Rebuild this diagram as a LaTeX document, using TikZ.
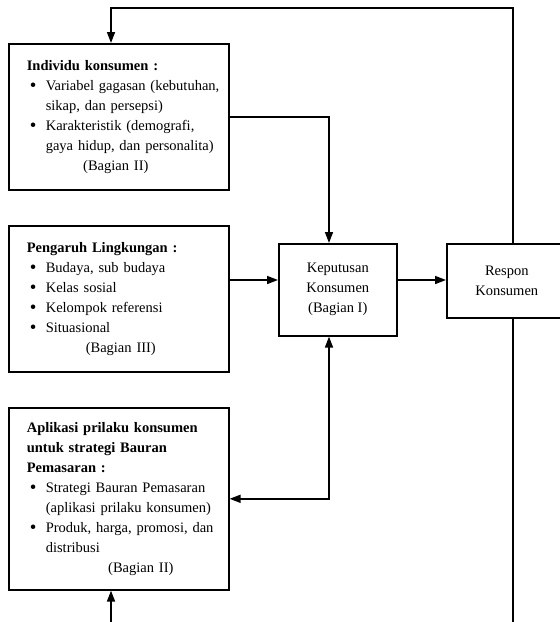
\documentclass[tikz,border=0pt]{standalone}
\usepackage{fontspec}
\setmainfont{Liberation Serif}
\usetikzlibrary{arrows.meta}

\newcommand{\itm}[1]{\makebox[19pt][l]{\hspace{3pt}\raisebox{-1.4pt}{\scalebox{1.3}{\textbullet}}}\mbox{#1}}
\newcommand{\cnt}[1]{\hspace*{19pt}\mbox{#1}}
\newcommand{\bag}[2][0pt]{\makebox[184pt]{\hspace{#1}#2}}

\begin{document}
\begin{tikzpicture}
        [x=1pt, y=-1pt,
        every node/.style={font=\fontsize{14.5}{20}\selectfont},
        sidebox/.style={draw, line width=1.6pt, anchor=north west,
          minimum width=220pt, text width=184pt, inner xsep=18pt, align=left},
        midbox/.style={draw, line width=1.6pt, anchor=north west, align=center},
        link/.style={line width=1.6pt},
        tip/.style={-{Triangle[length=11pt,width=8pt]}},
        tips/.style={{Triangle[length=11pt,width=8pt]}-{Triangle[length=11pt,width=8pt]}}]

    \path[use as bounding box, clip] (0,0) rectangle (560,622);

    % left column
    \node[sidebox, minimum height=146pt] (ind) at (8,43)
      {\textbf{Individu konsumen :}\\
       \itm{Variabel gagasan (kebutuhan,}\\
       \cnt{sikap, dan persepsi)}\\
       \itm{Karakteristik (demografi,}\\
       \cnt{gaya hidup, dan personalita)}\\
       \bag[-6pt]{(Bagian II)}};

    \node[sidebox, minimum height=146pt] (env) at (8,225)
      {\textbf{Pengaruh Lingkungan :}\\
       \itm{Budaya, sub budaya}\\
       \itm{Kelas sosial}\\
       \itm{Kelompok referensi}\\
       \itm{Situasional}\\
       \bag[4pt]{(Bagian III)}};

    \node[sidebox, minimum height=182pt] (app) at (8,407)
      {\textbf{Aplikasi prilaku konsumen}\\
       \textbf{untuk strategi Bauran}\\
       \textbf{Pemasaran :}\\
       \itm{Strategi Bauran Pemasaran}\\
       \cnt{(aplikasi prilaku konsumen)}\\
       \itm{Produk, harga, promosi, dan}\\
       \cnt{distribusi}\\
       \bag[44pt]{(Bagian II)}};

    % decision and response
    \node[midbox, minimum width=118pt, minimum height=92pt] (dec) at (278,243)
      {Keputusan\\Konsumen\\(Bagian I)};
    \node[midbox, minimum width=120pt, minimum height=74pt] (resp) at (446,243)
      {Respon\\Konsumen};

    \coordinate (ax) at (329,280);
    \coordinate (tl) at (111,8);
    \coordinate (tr) at (513,8);
    \coordinate (bl) at (111,640);
    \coordinate (br) at (513,640);

    \draw[link, tip] (ind.east) -| (dec.north -| ax);
    \draw[link, tip] (env.east |- ax) -- (dec.west |- ax);
    \draw[link, tip] (dec.east |- ax) -- (resp.west |- ax);
    \draw[link, tips] (dec.south -| ax) |- (app.east);

    % feedback loops
    \draw[link, tip] (resp.north -| tr) -- (tr) -- (tl) -- (ind.north -| tl);
    \draw[link, tip] (resp.south -| br) -- (br) -- (bl) -- (app.south -| bl);
\end{tikzpicture}
\end{document}
